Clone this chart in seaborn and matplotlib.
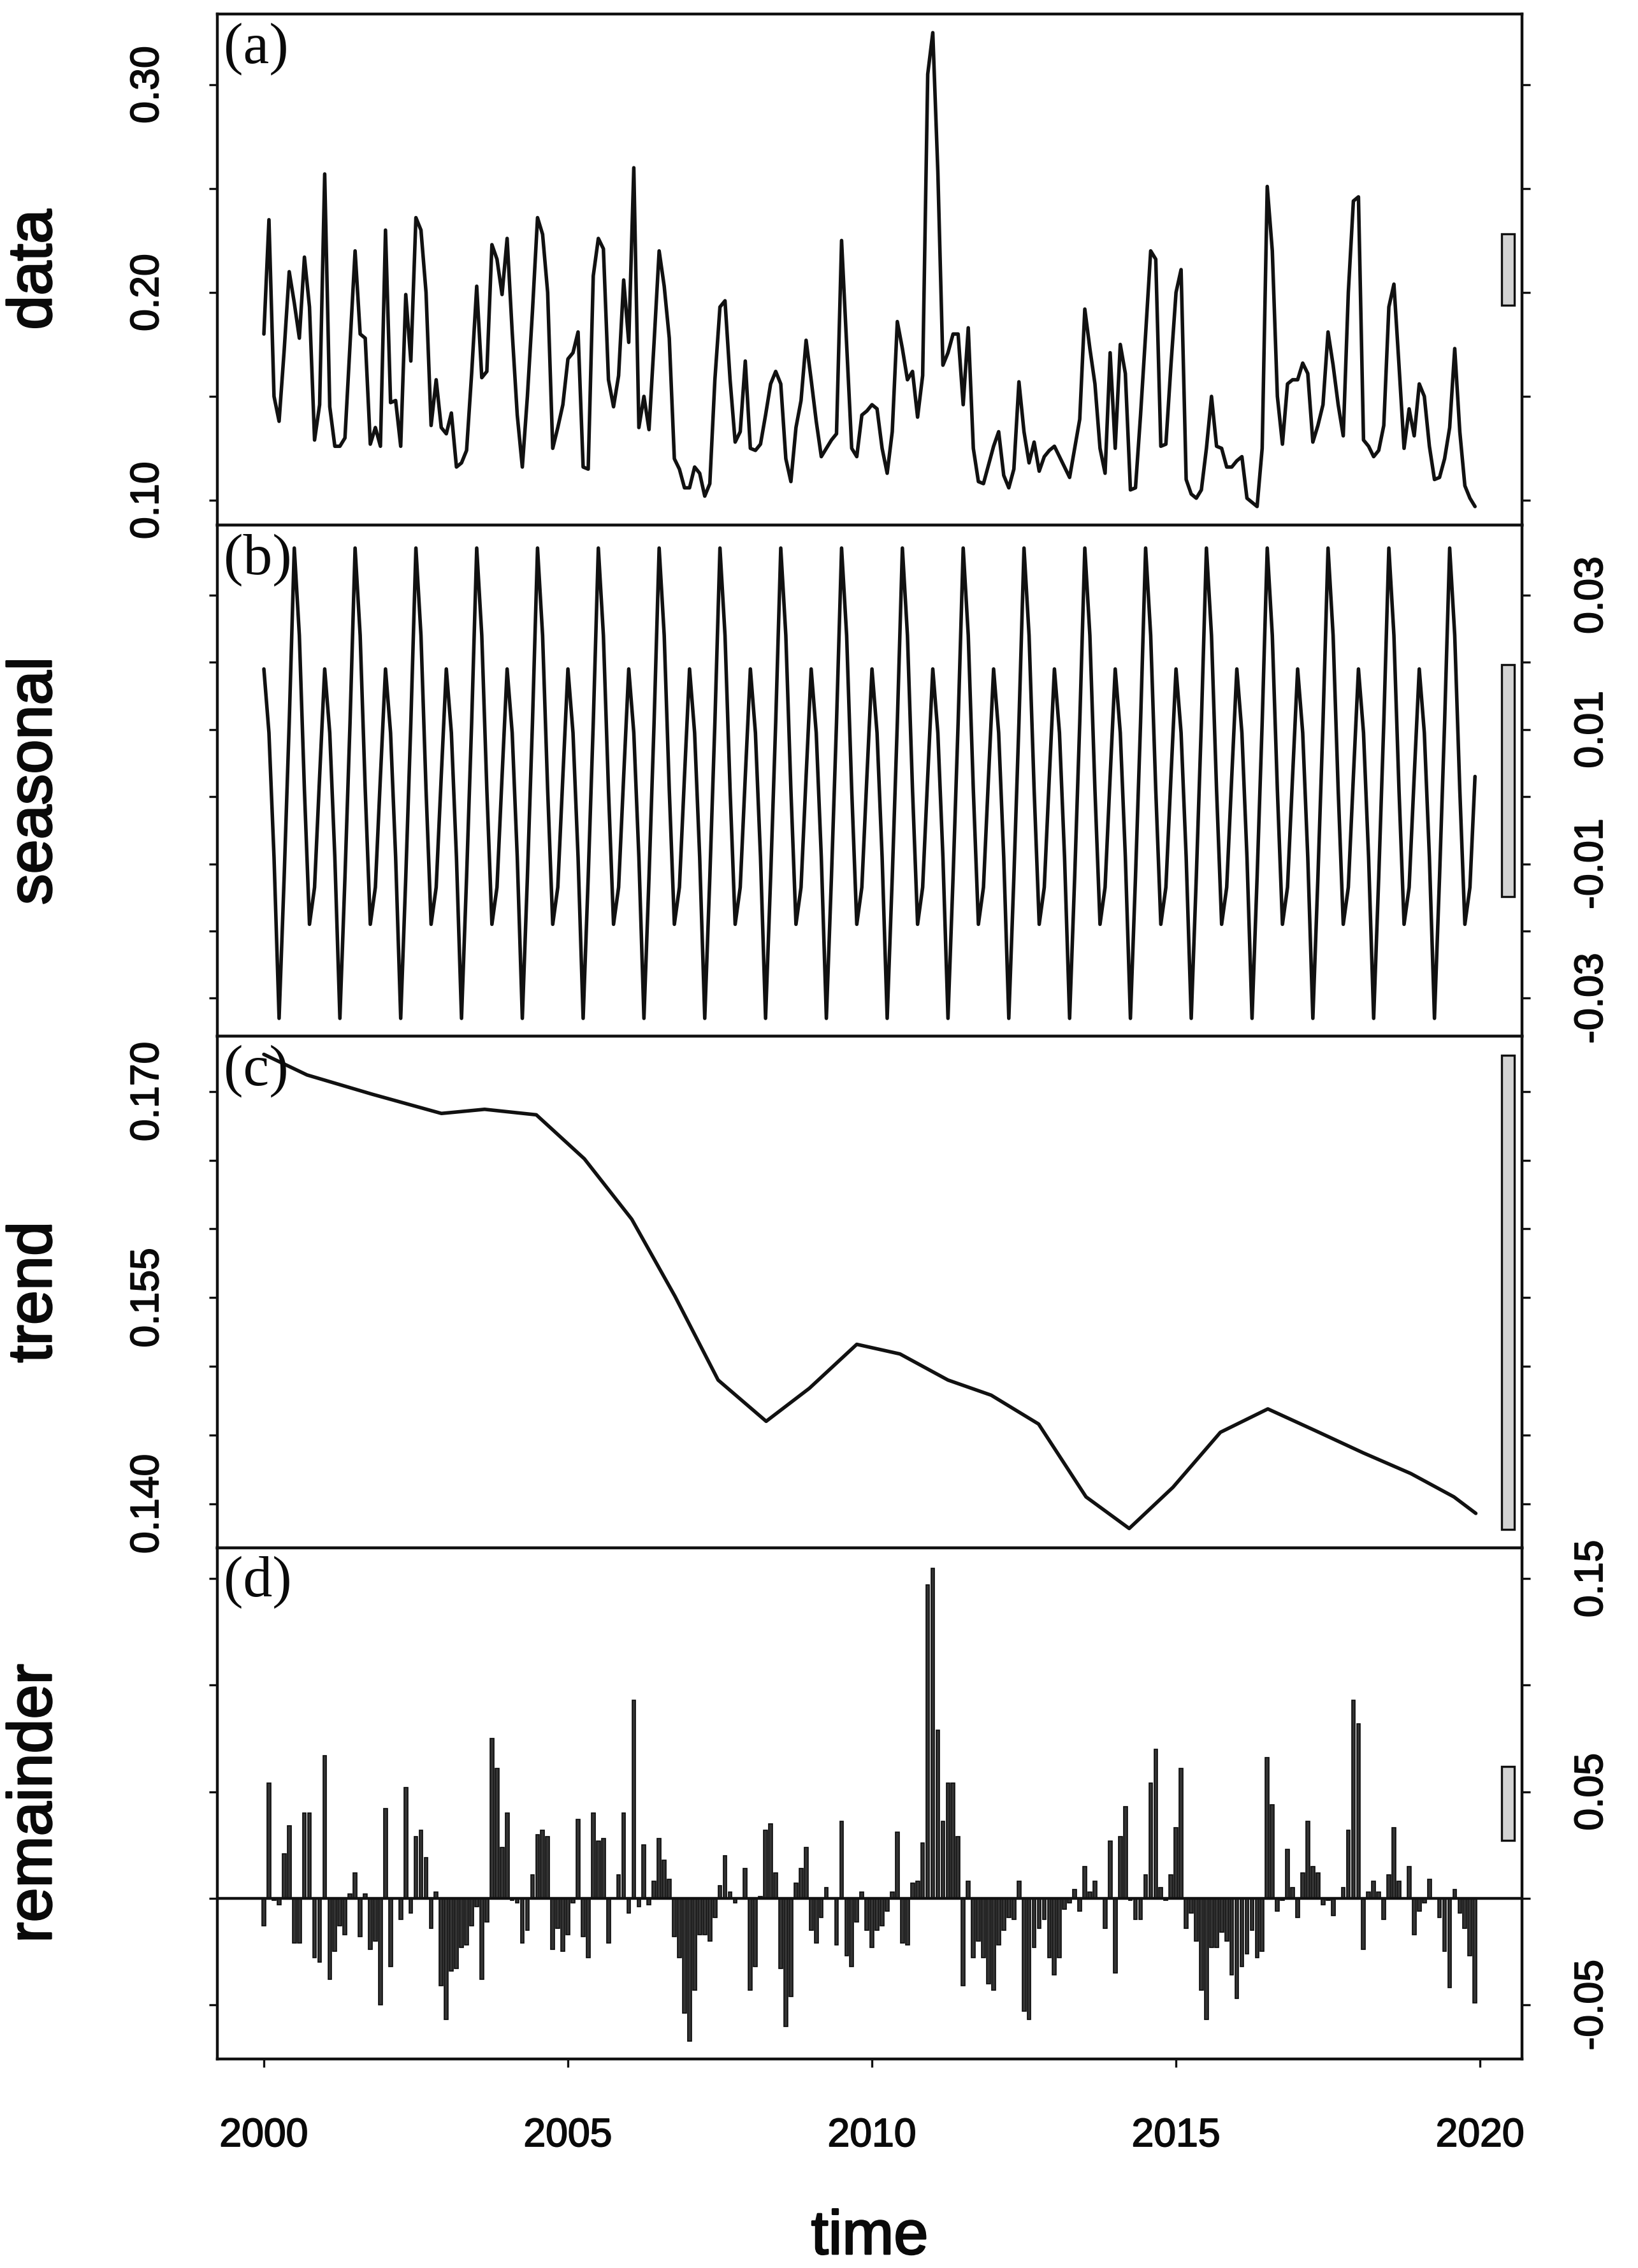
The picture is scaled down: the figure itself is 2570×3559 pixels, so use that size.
# coding: utf-8

import numpy as np
import seaborn as sns
import matplotlib.pyplot as plt
import matplotlib.patheffects as pe
from matplotlib.patches import Rectangle

sns.set_theme(style="ticks")
plt.rcParams['font.family'] = ['Liberation Sans', 'DejaVu Sans']

# monthly series, Jan 2000 .. Dec 2019 (240 months)
months = 2000 + np.arange(240) / 12.0

data_vals = [
    0.180, 0.235, 0.150, 0.138, 0.172, 0.210, 0.195, 0.178, 0.217, 0.193, 0.129, 0.146,
    0.257, 0.145, 0.126, 0.126, 0.130, 0.175, 0.220, 0.180, 0.178, 0.127, 0.135, 0.126,
    0.230, 0.147, 0.148, 0.126, 0.199, 0.167, 0.236, 0.230, 0.200, 0.136, 0.158, 0.135,
    0.132, 0.142, 0.116, 0.118, 0.124, 0.161, 0.203, 0.159, 0.162, 0.223, 0.216, 0.199,
    0.226, 0.181, 0.141, 0.116, 0.150, 0.191, 0.236, 0.228, 0.200, 0.125, 0.135, 0.146,
    0.168, 0.171, 0.181, 0.116, 0.115, 0.208, 0.226, 0.221, 0.158, 0.145, 0.160, 0.206,
    0.176, 0.260, 0.135, 0.150, 0.134, 0.176, 0.220, 0.203, 0.178, 0.120, 0.115, 0.106,
    0.106, 0.116, 0.113, 0.102, 0.108, 0.158, 0.193, 0.196, 0.158, 0.128, 0.133, 0.167,
    0.125, 0.124, 0.127, 0.141, 0.156, 0.162, 0.156, 0.120, 0.109, 0.135, 0.148, 0.177,
    0.158, 0.138, 0.121, 0.125, 0.129, 0.132, 0.225, 0.175, 0.125, 0.121, 0.141, 0.143,
    0.146, 0.144, 0.125, 0.113, 0.133, 0.186, 0.173, 0.158, 0.162, 0.140, 0.160, 0.305,
    0.325, 0.258, 0.165, 0.171, 0.180, 0.180, 0.146, 0.183, 0.125, 0.109, 0.108, 0.117,
    0.126, 0.133, 0.112, 0.106, 0.115, 0.157, 0.133, 0.118, 0.128, 0.114, 0.121, 0.124,
    0.126, 0.121, 0.116, 0.111, 0.125, 0.139, 0.192, 0.173, 0.156, 0.125, 0.113, 0.171,
    0.125, 0.175, 0.161, 0.105, 0.106, 0.141, 0.180, 0.220, 0.216, 0.126, 0.127, 0.165,
    0.200, 0.211, 0.110, 0.103, 0.101, 0.105, 0.125, 0.150, 0.126, 0.125, 0.116, 0.116,
    0.119, 0.121, 0.101, 0.099, 0.097, 0.125, 0.251, 0.220, 0.150, 0.127, 0.156, 0.158,
    0.158, 0.166, 0.161, 0.128, 0.136, 0.146, 0.181, 0.165, 0.146, 0.131, 0.200, 0.244,
    0.246, 0.129, 0.126, 0.121, 0.124, 0.136, 0.193, 0.204, 0.165, 0.125, 0.144, 0.131,
    0.156, 0.150, 0.126, 0.110, 0.111, 0.120, 0.135, 0.173, 0.133, 0.107, 0.101, 0.097,
]

# seasonal component is periodic: one value per calendar month (Jan..Dec)
seasonal_month = [0.019, 0.0095, -0.009, -0.033, -0.012, 0.011,
                  0.037, 0.024, 0.001, -0.019, -0.0135, 0.003]
seasonal_vals = np.tile(seasonal_month, 20)

# trend, read at its visible knots
trend_time = [2000.0, 2000.71, 2001.78, 2002.92, 2003.63, 2004.48, 2005.27, 2006.05,
              2006.76, 2007.47, 2008.26, 2008.97, 2009.75, 2010.46, 2011.25, 2011.96,
              2012.74, 2013.52, 2014.23, 2014.95, 2015.73, 2016.51, 2017.30, 2018.08,
              2018.86, 2019.57, 2019.93]
trend_vals = [0.1727, 0.1712, 0.1698, 0.1684, 0.1687, 0.1683, 0.1651, 0.1607,
              0.1551, 0.1490, 0.1460, 0.1484, 0.1516, 0.1509, 0.1490, 0.1479,
              0.1458, 0.1405, 0.1382, 0.1412, 0.1452, 0.1469, 0.1453, 0.1437,
              0.1422, 0.1405, 0.1393]

remainder_vals = [
    -0.013, 0.054, -0.001, -0.003, 0.021, 0.034, -0.021, -0.021, 0.040, 0.040, -0.028, -0.030,
    0.067, -0.038, -0.025, -0.013, -0.017, 0.002, 0.012, -0.018, 0.002, -0.024, -0.020, -0.050,
    0.042, -0.032, 0.000, -0.010, 0.052, -0.007, 0.029, 0.032, 0.019, -0.014, 0.003, -0.041,
    -0.057, -0.034, -0.033, -0.023, -0.022, -0.013, -0.004, -0.038, -0.011, 0.075, 0.061, 0.024,
    0.040, -0.001, -0.002, -0.021, -0.015, 0.011, 0.030, 0.032, 0.029, -0.024, -0.014, -0.025,
    -0.017, -0.002, 0.037, -0.018, -0.028, 0.040, 0.027, 0.028, -0.021, 0.000, 0.011, 0.040,
    -0.007, 0.093, -0.004, 0.025, -0.003, 0.008, 0.028, 0.018, 0.009, -0.018, -0.028, -0.054,
    -0.067, -0.043, -0.017, -0.017, -0.020, -0.009, 0.006, 0.020, 0.003, -0.002, 0.000, 0.014,
    -0.043, -0.032, 0.001, 0.032, 0.035, 0.012, -0.033, -0.060, -0.046, 0.007, 0.014, 0.024,
    -0.015, -0.021, -0.009, 0.005, 0.000, -0.022, 0.036, -0.027, -0.032, -0.011, 0.003, -0.015,
    -0.023, -0.015, -0.013, -0.006, 0.003, 0.031, -0.021, -0.022, 0.007, 0.008, 0.026, 0.147,
    0.155, 0.079, 0.036, 0.054, 0.054, 0.029, -0.041, 0.008, -0.028, -0.020, -0.028, -0.040,
    -0.043, -0.022, -0.015, -0.009, -0.010, 0.008, -0.053, -0.057, -0.023, -0.014, -0.010, -0.028,
    -0.036, -0.028, -0.005, -0.002, 0.004, -0.006, 0.015, 0.003, 0.008, 0.000, -0.014, 0.027,
    -0.035, 0.029, 0.043, -0.001, -0.010, -0.010, 0.011, 0.054, 0.070, 0.005, -0.001, 0.011,
    0.033, 0.061, -0.014, -0.007, -0.020, -0.043, -0.057, -0.023, -0.023, -0.016, -0.020, -0.036,
    -0.047, -0.032, -0.026, -0.015, -0.028, -0.025, 0.066, 0.044, -0.006, -0.001, 0.023, 0.005,
    -0.009, 0.012, 0.036, 0.015, 0.012, -0.003, -0.001, -0.008, 0.000, 0.005, 0.032, 0.093,
    0.082, -0.024, 0.003, 0.008, 0.003, -0.010, 0.011, 0.033, 0.008, 0.000, 0.015, -0.017,
    -0.006, -0.002, 0.009, 0.000, -0.009, -0.025, -0.042, 0.004, -0.007, -0.014, -0.027, -0.049,
]

panel_names = ["data", "seasonal", "trend", "remainder"]
panel_tags = ["(a)", "(b)", "(c)", "(d)"]
year_ticks = [2000, 2005, 2010, 2015, 2020]

ylims = [(0.088, 0.334), (-0.0357, 0.0404), (0.1368, 0.1740), (-0.0754, 0.1645)]
yticks = [[0.10, 0.15, 0.20, 0.25, 0.30],
          [-0.03, -0.02, -0.01, 0.00, 0.01, 0.02, 0.03],
          [0.140, 0.145, 0.150, 0.155, 0.160, 0.165, 0.170],
          [-0.05, 0.00, 0.05, 0.10, 0.15]]
ylabels = [["0.10", "", "0.20", "", "0.30"],
           ["-0.03", "", "-0.01", "", "0.01", "", "0.03"],
           ["0.140", "", "", "0.155", "", "", "0.170"],
           ["-0.05", "", "0.05", "", "0.15"]]
label_side = ["left", "right", "left", "right"]

LINE = "#111111"
# slightly heavier than regular, lighter than bold
thick_small = [pe.withStroke(linewidth=1.3, foreground="#0a0a0a")]
thick_big = [pe.withStroke(linewidth=2.0, foreground="#0a0a0a")]

fig = plt.figure(figsize=(25.70, 35.59), dpi=100)
left, width = 0.1327, 0.7965
bottom0, h = 0.09216, 0.22542

axes = []
for k in range(4):
    ax = fig.add_axes([left, bottom0 + (3 - k) * h, width, h])
    axes.append(ax)

sns.lineplot(x=months, y=data_vals, ax=axes[0], color=LINE, linewidth=4.0)
sns.lineplot(x=months, y=seasonal_vals, ax=axes[1], color=LINE, linewidth=4.0)
sns.lineplot(x=trend_time, y=trend_vals, ax=axes[2], color=LINE, linewidth=4.0)
sns.barplot(x=months, y=remainder_vals, ax=axes[3], native_scale=True, width=0.72,
            color="#333333", edgecolor="#0a0a0a", linewidth=1.2, errorbar=None,
            saturation=1)
axes[3].axhline(0, color=LINE, linewidth=3.2, zorder=3)

# range bars: same length in every panel (range of the trend)
bar_len = max(trend_vals) - min(trend_vals)

for k, ax in enumerate(axes):
    ax.set_xlim(1999.235, 2020.69)
    ax.set_ylim(*ylims[k])
    ax.set_xlabel("")
    ax.set_ylabel("")
    ax.set_xticks(year_ticks)
    ax.set_yticks(yticks[k])
    ax.set_yticklabels(ylabels[k])
    for sp in ax.spines.values():
        sp.set_visible(True)
        sp.set_linewidth(3.2)
        sp.set_color("#111111")
    ax.tick_params(axis="both", direction="out", length=9.5, width=2.4,
                   color="#111111", labelsize=45, labelcolor="#0a0a0a")
    ax.tick_params(axis="y", left=True, right=True,
                   labelleft=(label_side[k] == "left"),
                   labelright=(label_side[k] == "right"),
                   labelrotation=90, pad=48)
    ax.tick_params(axis="x", top=False, bottom=True, pad=56,
                   labelbottom=(k == 3))
    for t in ax.get_yticklabels() + ax.get_xticklabels():
        t.set_path_effects(thick_small)
    for t in ax.get_yticklabels():
        t.set_va("center")

    mid = sum(ylims[k]) / 2
    ax.add_patch(Rectangle((2020.35, mid - bar_len / 2), 0.21, bar_len,
                           facecolor="#d3d3d3", edgecolor="#111111",
                           linewidth=2.4, zorder=4, clip_on=False))

    ax.text(0.005, 0.984, panel_tags[k], transform=ax.transAxes,
            ha="left", va="top", fontsize=66, family=["Liberation Serif", "DejaVu Serif"],
            color="#0a0a0a", zorder=5)

    fig.text(0.0215, bottom0 + (3 - k) * h + h / 2, panel_names[k], rotation=90,
             ha="center", va="center", fontsize=70, color="#0a0a0a",
             path_effects=thick_big)

fig.text(left + width / 2, 0.0062, "time", ha="center", va="baseline",
         fontsize=70, color="#0a0a0a", path_effects=thick_big)

fig.savefig("out.png", dpi=100, facecolor="white")
